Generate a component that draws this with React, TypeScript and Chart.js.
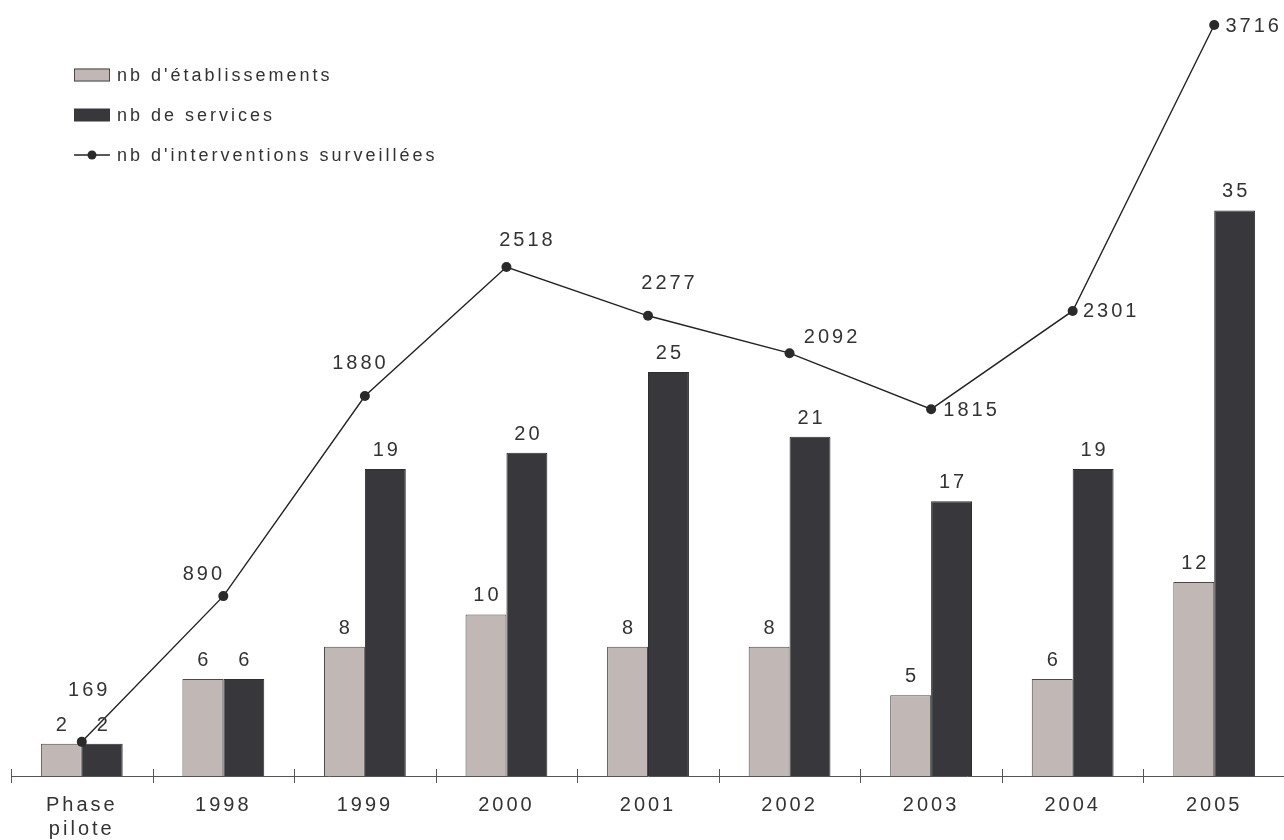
import React, { useEffect, useRef } from 'react';
import { Chart, registerables } from 'chart.js';

Chart.register(...registerables);

const categories: (string | string[])[] = [['Phase', 'pilote'], '1998', '1999', '2000', '2001', '2002', '2003', '2004', '2005'];
const etablissements = [2, 6, 8, 10, 8, 8, 5, 6, 12];
const services = [2, 6, 19, 20, 25, 21, 17, 19, 35];
const interventions = [169, 890, 1880, 2518, 2277, 2092, 1815, 2301, 3716];
const seriesNames = ["nb d'établissements", 'nb de services', "nb d'interventions surveillées"];
// label placement offsets (style) for the line value labels, relative to each point
const lineLabelOffsets: [number, number][] = [
  [6, -53], [-21, -23], [-6, -34], [19.5, -28.5], [20, -34], [41, -17], [39, 0], [37, -1], [38, 0],
];

const FONT = "'Liberation Sans', Arial, sans-serif";
const TEXT = '#333333';
const LIGHT = '#c1b8b5';
const DARK = '#38373c';
const SPACING = 3;
const INK_SHIFT = 1.5; // middle baseline vs. visual centre of digits

function drawSpaced(ctx: CanvasRenderingContext2D, text: string, x: number, y: number, align: 'center' | 'left', size: number, spacing: number) {
  ctx.save();
  ctx.font = `${size}px ${FONT}`;
  (ctx as any).letterSpacing = `${spacing}px`;
  ctx.fillStyle = TEXT;
  ctx.textBaseline = 'middle';
  ctx.textAlign = align;
  ctx.fillText(text, align === 'center' ? x + spacing / 2 : x, y + INK_SHIFT);
  ctx.restore();
}

const overlay = {
  id: 'overlay',
  beforeDraw(chart: any) {
    (chart.ctx as any).letterSpacing = `${SPACING}px`;
  },
  afterDraw(chart: any) {
    const ctx: CanvasRenderingContext2D = chart.ctx;
    const x = chart.scales.x;
    const area = chart.chartArea;
    // crossing tick marks at category boundaries
    const half = (x.getPixelForValue(1) - x.getPixelForValue(0)) / 2;
    ctx.save();
    ctx.strokeStyle = '#555555';
    ctx.lineWidth = 1;
    for (let i = 0; i <= categories.length; i++) {
      const px = Math.round(x.getPixelForValue(i) - half) + 0.5;
      ctx.beginPath();
      ctx.moveTo(px, area.bottom - 7);
      ctx.lineTo(px, area.bottom + 7);
      ctx.stroke();
    }
    ctx.restore();

    // bar value labels
    [1, 2].forEach((di) => {
      const meta = chart.getDatasetMeta(di);
      const data = chart.data.datasets[di].data;
      meta.data.forEach((el: any, i: number) => {
        drawSpaced(ctx, String(data[i]), el.x, el.y - 20, 'center', 20, SPACING);
      });
    });
    // line value labels
    const lm = chart.getDatasetMeta(0);
    lm.data.forEach((el: any, i: number) => {
      const [dx, dy] = lineLabelOffsets[i];
      drawSpaced(ctx, String(interventions[i]), el.x + dx, el.y + dy, 'center', 20, SPACING);
    });

    // legend
    const rows = [75, 115, 155];
    ctx.save();
    ctx.fillStyle = LIGHT;
    ctx.fillRect(74, rows[0] - 6.5, 36, 13);
    ctx.strokeStyle = '#4a4848';
    ctx.lineWidth = 1;
    ctx.strokeRect(74.5, rows[0] - 6, 35, 12);
    ctx.fillStyle = DARK;
    ctx.fillRect(74, rows[1] - 6.5, 36, 13);
    ctx.strokeStyle = '#222222';
    ctx.lineWidth = 1.3;
    ctx.beginPath();
    ctx.moveTo(74, rows[2]);
    ctx.lineTo(110, rows[2]);
    ctx.stroke();
    ctx.fillStyle = '#2a2a2a';
    ctx.beginPath();
    ctx.arc(92, rows[2], 4.5, 0, Math.PI * 2);
    ctx.fill();
    ctx.restore();
    seriesNames.forEach((n, i) => drawSpaced(ctx, n, 117, rows[i], 'left', 18, 3));
  },
};

export default function App() {
  const ref = useRef<HTMLCanvasElement>(null);
  useEffect(() => {
    if (!ref.current) return;
    const chart = new Chart(ref.current, {
      type: 'bar',
      data: {
        labels: categories,
        datasets: [
          {
            type: 'line',
            label: seriesNames[2],
            data: interventions,
            yAxisID: 'y1',
            borderColor: '#222222',
            borderWidth: 1.4,
            pointRadius: 5,
            pointBackgroundColor: '#2a2a2a',
            pointBorderWidth: 0,
            tension: 0,
            order: 0,
          } as any,
          {
            type: 'bar',
            label: seriesNames[0],
            data: etablissements,
            yAxisID: 'y',
            backgroundColor: LIGHT,
            borderColor: '#4a4848',
            borderWidth: 1,
            categoryPercentage: 0.578,
            barPercentage: 1,
            order: 1,
          },
          {
            type: 'bar',
            label: seriesNames[1],
            data: services,
            yAxisID: 'y',
            backgroundColor: DARK,
            borderColor: '#2e2d31',
            borderWidth: 1,
            categoryPercentage: 0.578,
            barPercentage: 1,
            order: 2,
          },
        ],
      },
      options: {
        responsive: false,
        animation: false,
        devicePixelRatio: 1,
        layout: { padding: { left: 11, right: 3, top: 10, bottom: 9 } },
        plugins: { legend: { display: false }, tooltip: { enabled: false } },
        scales: {
          x: {
            offset: true,
            grid: { display: false, drawTicks: false },
            border: { display: true, color: '#555555', width: 1 },
            ticks: {
              color: TEXT,
              font: { family: FONT, size: 20 },
              padding: 17,
              maxRotation: 0,
              autoSkip: false,
            },
          },
          y: { display: false, min: 0, max: 47.4 },
          y1: { display: false, min: 0, max: 3790 },
        },
      },
      plugins: [overlay],
    });
    return () => chart.destroy();
  }, []);
  return (
    <div style={{ position: 'absolute', left: 0, top: 0, width: 1284, height: 840, overflow: 'hidden', background: '#fff' }}>
      <canvas ref={ref} width={1290} height={867} style={{ display: 'block' }} />
    </div>
  );
}
